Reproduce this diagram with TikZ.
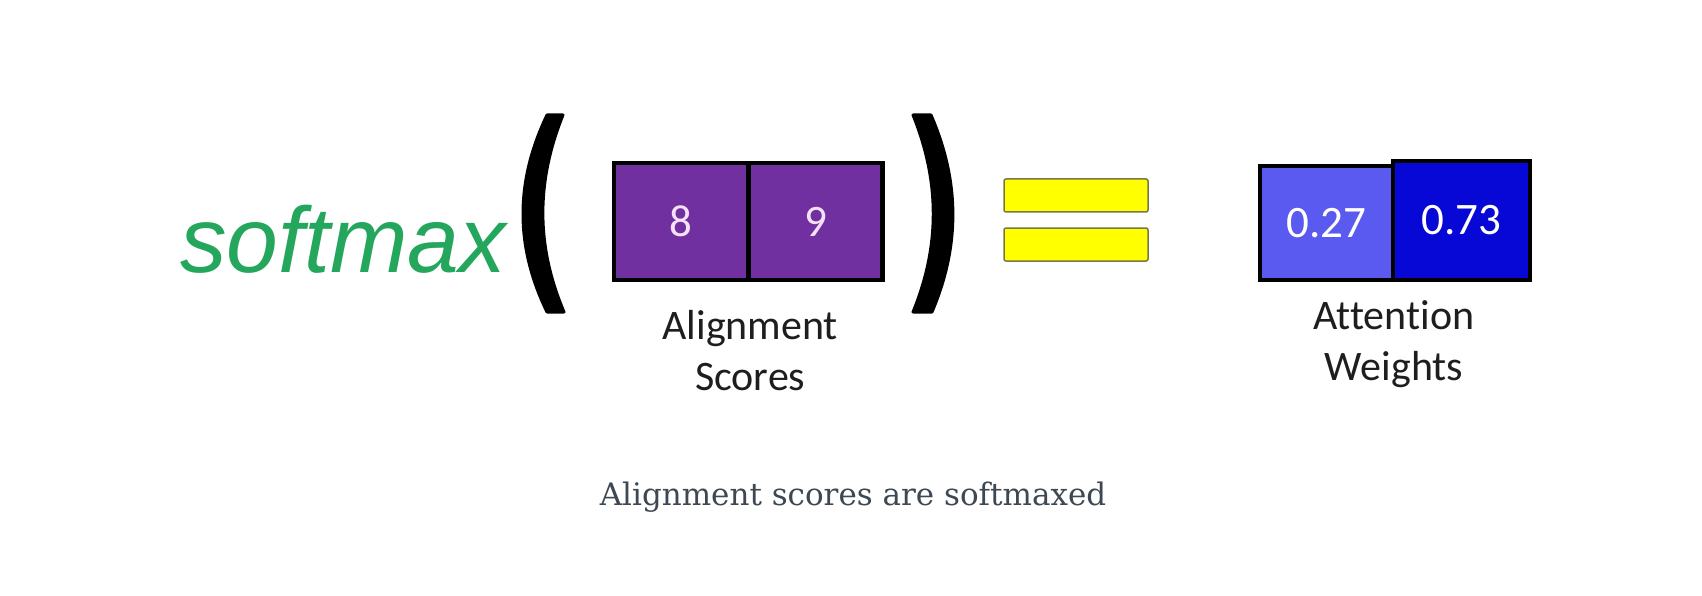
\documentclass[tikz,border=0pt]{standalone}
\usepackage{fontspec}
\setmainfont{Carlito}[Ligatures=NoCommon]
\newfontfamily\arialfont{Liberation Sans}
\newfontfamily\captionfont{DejaVu Serif}
\definecolor{smgreen}{RGB}{36,166,92}
\definecolor{scorepurple}{RGB}{112,48,160}
\definecolor{lightblue}{RGB}{90,90,240}
\definecolor{darkblue}{RGB}{8,8,214}
\definecolor{barline}{RGB}{120,120,70}
\definecolor{labelgray}{RGB}{30,30,30}
\definecolor{captiongray}{RGB}{61,72,82}

\begin{document}
\begin{tikzpicture}[x=1pt,y=-1pt,
  cell/.style={draw=black,line width=4.5pt,inner sep=0pt,font=\fontsize{45}{45}\selectfont},
  bar/.style={draw=barline,fill={rgb,255:red,255;green,255;blue,0},line width=1.5pt,rounded corners=2pt,minimum width=144pt,minimum height=33pt,inner sep=0pt},
  lbl/.style={align=center,text=labelgray,font=\fontsize{42}{51}\selectfont}]
\useasboundingbox[fill=white] (0,0) rectangle (1702,596);

\node[anchor=base west,inner sep=0pt,text=smgreen,font=\arialfont\itshape\fontsize{93}{93}\selectfont] (softmax) at (180,272) {softmax};

\fill[black,draw=black,line width=3pt,line join=round] (547,115) .. controls (515,182) and (515,246) .. (547,312) -- (564,312) .. controls (536,246) and (536,182) .. (563,115) -- cycle;
\fill[black,draw=black,line width=3pt,line join=round] (913,115) .. controls (940,182) and (940,246) .. (913,312) -- (932,312) .. controls (960,246) and (960,182) .. (931,115) -- cycle;

\foreach \x/\v [count=\i] in {681/8,815.5/9} {
\node[cell,fill=scorepurple,text={rgb,255:red,245;green,225;blue,245},minimum width=134pt,minimum height=117pt] (score\i) at (\x,221.5) {\v};
}
\node[lbl,anchor=north] (scores) at ([yshift=-25pt]score1.south east) {Alignment\\Scores};

\node[bar] (eqtop) at (1076,195.5) {};
\node[bar] (eqbot) at (1076,244.5) {};

\node[cell,fill=lightblue,text=white,minimum width=133pt,minimum height=114pt] (weight1) at (1326.5,223) {0.27};
\node[cell,fill=darkblue,text=white,minimum width=137pt,minimum height=119pt] (weight2) at (1461.5,220.5) {\raisebox{-2pt}{0.73}};
\node[lbl,anchor=north] (weights) at (1394,297) {Attention\\Weights};

\node[text=captiongray,inner sep=0pt,font=\captionfont\fontsize{31}{31}\selectfont] (caption) at (853,497) {Alignment scores are softmaxed};
\end{tikzpicture}
\end{document}
